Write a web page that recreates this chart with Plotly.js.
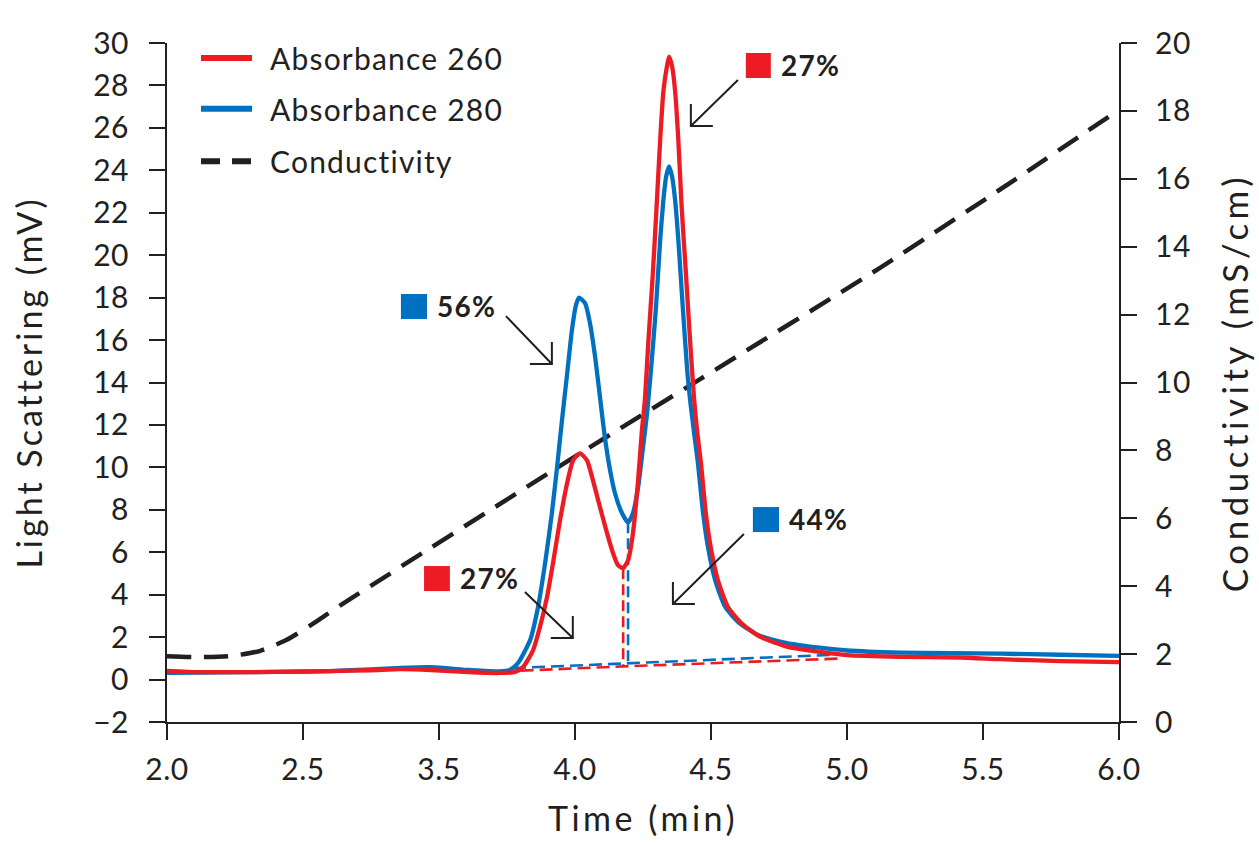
<!DOCTYPE html>
<html><head><meta charset="utf-8">
<script src="https://cdn.plot.ly/plotly-3.0.1.min.js"></script>
<style>
html,body{margin:0;padding:0;background:#fff}
.xtick text,.ytick text,.y2tick text{letter-spacing:0.5px}
.annotation-text{letter-spacing:1.2px}
.xtitle{letter-spacing:3.5px}
.y2title{letter-spacing:3px}
.ytitle{letter-spacing:4.5px}
</style>
</head><body>
<div id="chart" style="width:1259px;height:843px"></div>
<script>
// ---- data (time in axis units, min) ----
const a260Time = [2.50,2.62,2.80,3.00,3.10,3.25,3.36,3.47,3.61,3.72,3.78,3.809,3.846,3.871,3.897,3.919,3.945,3.971,3.993,4.018,4.044,4.066,4.092,4.118,4.140,4.158,4.177,4.195,4.213,4.232,4.246,4.257,4.270,4.286,4.300,4.313,4.325,4.338,4.346,4.357,4.368,4.380,4.392,4.408,4.423,4.438,4.449,4.463,4.481,4.499,4.525,4.562,4.610,4.680,4.779,4.901,5.000,5.195,5.415,5.562,5.783,6.000];
const a260Value = [0.41,0.35,0.35,0.37,0.40,0.44,0.49,0.45,0.35,0.31,0.36,0.59,1.39,2.47,3.88,5.48,7.51,9.25,10.33,10.66,10.33,9.39,8.12,6.89,5.95,5.39,5.25,5.62,6.89,9.39,11.74,13.20,16.00,19.10,22.30,25.40,27.73,28.90,29.36,28.90,27.73,25.40,22.30,19.10,16.00,13.20,11.70,10.20,7.84,6.24,4.70,3.43,2.68,2.02,1.55,1.30,1.15,1.07,1.04,0.96,0.87,0.82];

const a280Time = [2.50,2.62,2.80,3.00,3.10,3.25,3.36,3.47,3.61,3.72,3.76,3.785,3.798,3.835,3.864,3.890,3.915,3.934,3.952,3.971,3.989,4.004,4.015,4.037,4.055,4.074,4.092,4.110,4.129,4.147,4.173,4.195,4.213,4.232,4.250,4.265,4.282,4.298,4.313,4.325,4.335,4.346,4.357,4.368,4.380,4.396,4.413,4.423,4.438,4.452,4.471,4.489,4.515,4.552,4.599,4.673,4.779,4.901,5.000,5.195,5.563,5.783,6.000];
const a280Value = [0.32,0.33,0.35,0.38,0.40,0.48,0.55,0.58,0.45,0.38,0.45,0.70,0.92,1.86,3.41,5.48,7.84,10.00,12.20,14.40,16.50,17.67,18.00,17.74,16.80,15.20,13.30,11.40,9.86,8.78,7.84,7.41,7.84,9.06,10.94,12.55,15.00,17.60,20.70,22.60,23.70,24.18,23.70,22.60,20.70,17.60,14.50,13.20,11.60,10.20,7.84,6.24,4.70,3.43,2.72,2.10,1.72,1.50,1.37,1.27,1.22,1.17,1.12];

const condTime  = [2.50,2.62,2.73,2.84,2.94,3.03,3.14,4.02,4.46,5.12,5.56,6.00];
const condValue = [1.94,1.91,1.94,2.09,2.42,2.86,3.45,7.92,10.10,13.37,15.67,18.03];

// integration baselines and peak cut lines
const base280Time  = [3.772,4.195,4.970];
const base280Value = [0.54,0.77,1.18];
const cut280Time   = [4.195,4.195];
const cut280Value  = [7.41,0.77];
const base260Time  = [3.800,4.177,4.974];
const base260Value = [0.42,0.62,0.99];
const cut260Time   = [4.177,4.177];
const cut260Value  = [5.25,0.62];

// axis ticks
const xTickPositions = [2.5,3.0,3.5,4.0,4.5,5.0,5.5,6.0];
const xTickLabels = ['2.0','2.5','3.5','4.0','4.5','5.0','5.5','6.0'];

// peak percentage labels
const pctLabels = ['27%','56%','27%','44%'];
const pctSeries = ['a260','a280','a260','a280'];

// ---- styling ----
const RED = '#ed1c24', BLUE = '#0070c0', DARK = '#231f20';
const FONT = 'Lato, "Open Sans", sans-serif';

// label placement (data units of x / left y)
const labelPos = [
  {sq:[4.628,4.720,28.35,29.53], tx:[4.750,28.96], tail:[4.599,28.26], tip:[4.426,26.09], hx:1},
  {sq:[3.360,3.456,16.99,18.17], tx:[3.486,17.60], tail:[3.746,17.13], tip:[3.915,14.87], hx:-1},
  {sq:[3.445,3.540,4.17,5.35],   tx:[3.570,4.79],  tail:[3.816,4.13],  tip:[3.992,1.96],  hx:-1},
  {sq:[4.654,4.750,6.95,8.13],   tx:[4.780,7.57],  tail:[4.621,6.86],  tip:[4.360,3.56],  hx:1}
];
const pxT = 0.5/136, pxY = 32/679, HEAD = 22;

const traces = [
  {x:condTime, y:condValue, yaxis:'y', name:'Conductivity', mode:'lines',
   line:{color:DARK, width:4.5, dash:'24px,13px', shape:'spline', smoothing:0.6}, showlegend:false},
  {x:base280Time, y:base280Value, yaxis:'y2', mode:'lines', showlegend:false, hoverinfo:'skip',
   line:{color:BLUE, width:2.6, dash:'13px,6px'}},
  {x:cut280Time, y:cut280Value, yaxis:'y2', mode:'lines', showlegend:false, hoverinfo:'skip',
   line:{color:BLUE, width:2.6, dash:'11px,5px'}},
  {x:base260Time, y:base260Value, yaxis:'y2', mode:'lines', showlegend:false, hoverinfo:'skip',
   line:{color:RED, width:2.6, dash:'13px,6px'}},
  {x:cut260Time, y:cut260Value, yaxis:'y2', mode:'lines', showlegend:false, hoverinfo:'skip',
   line:{color:RED, width:2.6, dash:'11px,5px'}},
  {x:a280Time, y:a280Value, yaxis:'y2', name:'Absorbance 280', mode:'lines',
   line:{color:BLUE, width:4.3, shape:'spline', smoothing:0.6}, showlegend:false},
  {x:a260Time, y:a260Value, yaxis:'y2', name:'Absorbance 260', mode:'lines',
   line:{color:RED, width:4.3, shape:'spline', smoothing:0.6}, showlegend:false}
];

const shapes = [], annotations = [];
labelPos.forEach((p,i) => {
  const col = pctSeries[i]==='a260' ? RED : BLUE;
  shapes.push({type:'rect', xref:'x', yref:'y2', x0:p.sq[0], x1:p.sq[1], y0:p.sq[2], y1:p.sq[3],
               fillcolor:col, line:{width:0}});
  const hx = p.tip[0] + p.hx*HEAD*pxT, vy = p.tip[1] + HEAD*pxY;
  shapes.push({type:'path', xref:'x', yref:'y2',
    path:`M${p.tail[0]},${p.tail[1]} L${p.tip[0]},${p.tip[1]} M${hx},${p.tip[1]} L${p.tip[0]},${p.tip[1]} L${p.tip[0]},${vy}`,
    line:{color:DARK, width:2}});
  annotations.push({xref:'x', yref:'y2', x:p.tx[0], y:p.tx[1], xanchor:'left', yanchor:'middle',
    text:'<b>'+pctLabels[i]+'</b>', showarrow:false, font:{family:FONT, size:28, color:DARK}});
});

// legend (drawn manually to match sample length)
const legendItems = [
  {name:'Absorbance 260', color:RED, dash:'solid', y:0.978},
  {name:'Absorbance 280', color:BLUE, dash:'solid', y:0.903},
  {name:'Conductivity', color:DARK, dash:'19px,12px', y:0.826}
];
legendItems.forEach(it => {
  shapes.push({type:'line', xref:'paper', yref:'paper', x0:0.0357, x1:0.0893, y0:it.y, y1:it.y,
               line:{color:it.color, width:6, dash:it.dash}});
  annotations.push({xref:'paper', yref:'paper', x:0.1060, y:it.y, xanchor:'left', yanchor:'middle',
    text:it.name, showarrow:false, font:{family:FONT, size:30, color:DARK}});
});

const axisCommon = {showline:true, linewidth:2, linecolor:DARK, ticks:'outside', ticklen:16,
  tickwidth:2, tickcolor:DARK, showgrid:false, zeroline:false,
  tickfont:{family:FONT, size:30, color:DARK}, ticklabelstandoff:14};

const layout = {
  width:1259, height:843,
  margin:{l:167, r:140, t:43, b:121},
  paper_bgcolor:'#fff', plot_bgcolor:'#fff',
  font:{family:FONT, color:DARK},
  showlegend:false,
  xaxis:Object.assign({}, axisCommon, {range:[2.5,6.0], tickmode:'array', tickvals:xTickPositions, ticktext:xTickLabels,
    ticklabelstandoff:4,
    title:{text:'Time (min)', font:{family:FONT, size:34, color:DARK}, standoff:22}}),
  yaxis:Object.assign({}, axisCommon, {side:'right', range:[0,20], dtick:2, tick0:0, ticklabelstandoff:12,
    title:{text:'Conductivity (mS/cm)', font:{family:FONT, size:35, color:DARK}, standoff:34}}),
  yaxis2:Object.assign({}, axisCommon, {side:'left', overlaying:'y', range:[-2,30], dtick:2, tick0:0,
    title:{text:'Light Scattering (mV)', font:{family:FONT, size:34, color:DARK}, standoff:40}}),
  shapes:shapes, annotations:annotations
};

Plotly.newPlot('chart', traces, layout, {displayModeBar:false, staticPlot:true});
</script>
</body></html>
